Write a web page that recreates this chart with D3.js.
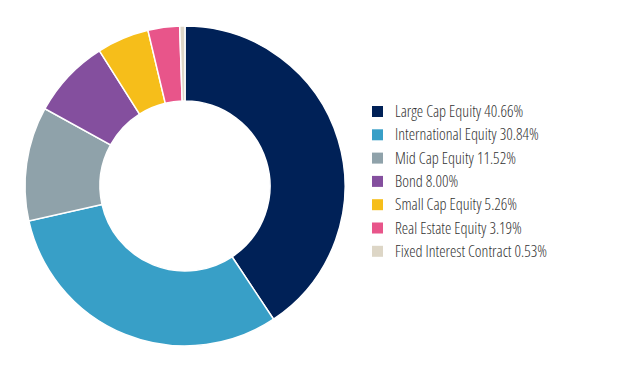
<!DOCTYPE html>
<html>
<head>
<meta charset="utf-8">
<script src="https://cdn.jsdelivr.net/npm/d3@7"></script>
<style>
  body { margin: 0; background: #fff; }
  text { font-family: "Open Sans", sans-serif; font-stretch: condensed; }
</style>
</head>
<body>
<div id="chart"></div>
<script>
var categories = ["Large Cap Equity", "International Equity", "Mid Cap Equity", "Bond",
    "Small Cap Equity", "Real Estate Equity", "Fixed Interest Contract"];
var values = [40.66, 30.84, 11.52, 8.00, 5.26, 3.19, 0.53];
var colors = ["#002157", "#389fc7", "#8fa2aa", "#844f9e", "#f6be1a", "#e8558a", "#ddd6c6"];

function init() {
    var width = 627;
    var height = 371;

    var svg = d3.select("#chart")
        .append("svg")
        .attr("width", width)
        .attr("height", height);

    var color = d3.scaleOrdinal().domain(categories).range(colors);

    // Pie layout, clockwise from top, keep data order
    var pie = d3.pie().sort(null).value(function (d) { return d.value; });
    var arc = d3.arc().innerRadius(85).outerRadius(160);

    var data = categories.map(function (c, i) { return { name: c, value: values[i] }; });

    var g = svg.append("g").attr("transform", "translate(185,186)");
    g.selectAll("path")
        .data(pie(data))
        .enter()
        .append("path")
        .attr("d", arc)
        .attr("fill", function (d) { return color(d.data.name); })
        .attr("stroke", "#fff")
        .attr("stroke-width", 1.5);

    // Legend
    var legend = svg.append("g").attr("transform", "translate(372,106)");
    var rows = legend.selectAll("g")
        .data(data)
        .enter()
        .append("g")
        .attr("transform", function (d, i) { return "translate(0," + (i * 23.3) + ")"; });

    rows.append("rect")
        .attr("width", 11)
        .attr("height", 11)
        .attr("fill", function (d) { return color(d.name); });

    rows.append("text")
        .attr("x", 23)
        .attr("y", 11)
        .attr("font-size", 16)
        .attr("font-weight", 300)
        .attr("fill", "#333")
        .text(function (d) { return d.name + " " + d.value.toFixed(2) + "%"; });
}

window.onload = init;
</script>
</body>
</html>
